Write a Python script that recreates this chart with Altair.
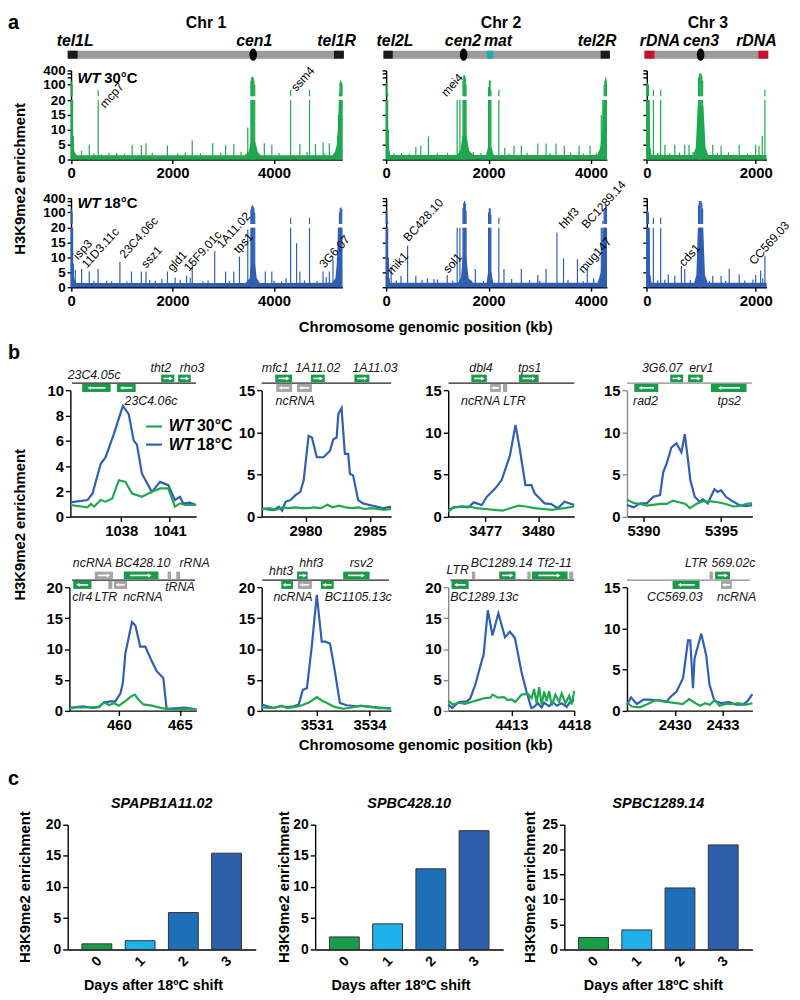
import altair as alt
import numpy as np
import pandas as pd

FONT = "Liberation Sans"
GREEN = "#1fa84f"
BLUE = "#2f5fb3"
GENE_GREEN = "#1a9a48"
GENE_GRAY = "#a5a5a5"
IDEO_GRAY = "#9b9b9b"
W, H = 784, 992

# ---------------- panel a data (kb, enrichment) ----------------
CHR1_WT30_SPIKES = [
    (0, 150), (10, 130), (20, 100), (30, 20), (45, 8),
    (207, 2.9), (359, 5.0), (450, 2.0), (535, 60), (600, 1.8), (748, 2.3), (900, 2.2), (1050, 1.9),
    (1204, 4.9), (1386, 4.9), (1477, 5.5), (1600, 2.3), (1899, 4.7), (2100, 2.0), (2250, 2.4),
    (2388, 6.4), (2550, 2.1), (2792, 5.5), (2950, 2.3), (3046, 4.9), (3208, 5.2), (3350, 2.6), (3483, 10.8),
    (3545, 150), (3560, 200), (3575, 220), (3590, 200), (3605, 150), (3620, 100),
    (3809, 5.5), (3957, 5.0), (4100, 2.2), (4328, 60), (4510, 5.2), (4650, 2.5), (4700, 60), (4817, 5.2),
    (4967, 5.8), (5000, 2.0), (5091, 5.5),
    (5250, 8), (5270, 15), (5290, 30), (5300, 120), (5315, 150), (5330, 130), (5340, 110)]
CHR1_WT30_BASE = [(0, 20), (25, 20), (40, 6), (70, 2.5), (110, 1.4), (3420, 1.4), (3500, 2.5), (3540, 6),
                  (3630, 6), (3680, 2.5), (3740, 1.4), (5150, 1.4), (5200, 2.5), (5240, 5), (5265, 12),
                  (5280, 20), (5346, 20)]
CHR1_WT18_SPIKES = [
    (0, 150), (10, 130), (20, 100), (30, 20), (45, 8),
    (84, 5.9), (208, 6.1), (358, 5.3), (450, 2.2), (533, 6.1), (702, 2.2), (800, 2.0), (963, 8.6), (1100, 1.9),
    (1191, 5.3), (1386, 5.3), (1477, 5.3), (1550, 2.4), (1660, 2.2), (1790, 2.8), (1900, 5.3), (2050, 3.3),
    (2150, 2.5), (2278, 3.9), (2350, 3.2), (2389, 8.3), (2600, 2.0), (2700, 2.3), (2831, 12.2), (3046, 5.3),
    (3120, 2.1), (3208, 5.3), (3319, 10.3), (3483, 19.4),
    (3545, 130), (3560, 180), (3575, 200), (3590, 180), (3605, 150), (3620, 100),
    (3650, 2.4), (3828, 5.3), (3957, 5.3), (4000, 2.2), (4150, 2.0), (4237, 3.0), (4328, 60), (4445, 14.8),
    (4510, 5.3), (4600, 2.3), (4700, 60), (4850, 2.1), (4967, 5.3), (5030, 3.5), (5091, 5.3), (5163, 9.2),
    (5250, 10), (5270, 20), (5290, 100), (5305, 150), (5320, 160), (5335, 140)]
CHR1_WT18_BASE = [(0, 20), (25, 20), (40, 6), (70, 2.5), (110, 1.4), (3440, 1.4), (3520, 3), (3545, 8),
                  (3625, 8), (3660, 3), (3720, 1.4), (5150, 1.5), (5210, 3), (5240, 8), (5265, 20), (5346, 20)]

CHR2_WT30_SPIKES = [
    (0, 120), (15, 100), (30, 40), (45, 10), (60, 3),
    (150, 2.0), (300, 2.2), (450, 1.9), (580, 4.2), (677, 4.6), (825, 7.7), (1000, 2.1), (1200, 2.3),
    (1386, 20), (1440, 20),
    (1500, 150), (1515, 250), (1530, 250), (1545, 200), (1560, 100),
    (1700, 2.5), (1850, 2.2),
    (2000, 80), (2015, 150), (2030, 150), (2045, 60),
    (2200, 60), (2316, 4.0), (2400, 2.0), (2497, 4.6), (2639, 4.6), (2750, 2.3), (2961, 5.4), (3122, 5.4),
    (3200, 2.1), (3315, 5.4), (3477, 4.6), (3600, 2.4), (3766, 4.6), (3850, 2.0), (3980, 4.6), (4100, 2.2),
    (4200, 15), (4230, 20), (4255, 100), (4270, 150), (4285, 200), (4300, 150)]
CHR2_WT30_BASE = [(0, 20), (20, 20), (40, 5), (70, 1.5), (1380, 1.5), (1450, 3), (1490, 8), (1570, 8),
                  (1620, 3), (1700, 1.5), (1950, 1.5), (1985, 4), (2060, 4), (2100, 1.5), (4120, 1.5),
                  (4180, 4), (4220, 10), (4245, 20), (4309, 20)]
CHR2_WT18_SPIKES = [
    (0, 120), (15, 100), (30, 40), (45, 10), (60, 3),
    (97, 6.7), (200, 2.3), (290, 3.9), (419, 14.0), (580, 3.9), (700, 2.5), (806, 3.0), (935, 2.8),
    (1000, 2.6), (1193, 4.1), (1300, 2.2), (1386, 20), (1440, 20),
    (1500, 150), (1515, 250), (1530, 300), (1545, 250), (1560, 120),
    (1650, 2.4), (1741, 6.1), (1900, 2.1),
    (2000, 100), (2015, 150), (2030, 150), (2045, 80),
    (2200, 60), (2300, 6.1), (2450, 2.8), (2639, 6.1), (2800, 2.4), (2961, 4.1), (3000, 2.2), (3122, 6.1),
    (3334, 18.3), (3463, 9.7), (3550, 2.5), (3734, 9.4), (3850, 2.0), (3927, 6.7), (4050, 3.0),
    (4200, 20), (4230, 40), (4255, 120), (4270, 150), (4285, 200), (4300, 180)]
CHR2_WT18_BASE = [(0, 20), (20, 20), (40, 5), (70, 1.5), (1400, 1.5), (1460, 3), (1495, 10), (1565, 10),
                  (1610, 3), (1700, 1.5), (1960, 1.5), (1990, 5), (2055, 5), (2090, 1.5), (4130, 1.5),
                  (4190, 5), (4220, 12), (4240, 20), (4309, 20)]

CHR3_WT30_SPIKES = [
    (0, 120), (15, 120), (30, 100), (45, 20), (60, 4),
    (121, 60), (200, 2.2), (255, 60), (333, 5.0), (420, 2.0), (515, 5.0), (600, 2.3), (697, 5.0), (776, 5.0),
    (850, 2.5),
    (950, 200), (965, 300), (980, 300), (995, 300), (1010, 250), (1025, 150),
    (1212, 5.0), (1300, 2.1), (1364, 4.6), (1500, 2.4), (1697, 5.0), (1850, 2.0), (2000, 5.0), (2061, 4.6),
    (2121, 8.0), (2170, 60)]
CHR3_WT30_BASE = [(0, 20), (40, 20), (60, 4), (90, 1.5), (850, 1.5), (900, 4), (935, 18), (1040, 18),
                  (1080, 4), (1130, 1.5), (2200, 1.5)]
CHR3_WT18_SPIKES = [
    (0, 120), (15, 120), (30, 100), (45, 20), (60, 4),
    (121, 60), (200, 2.3), (255, 60), (330, 2.5), (394, 4.4), (515, 3.9), (636, 7.2), (697, 6.1), (800, 2.4),
    (950, 200), (965, 300), (980, 300), (995, 300), (1010, 250), (1025, 150),
    (1150, 2.2), (1212, 3.9), (1364, 3.9), (1450, 2.1), (1515, 6.1), (1697, 4.4), (1800, 2.3), (1950, 2.6),
    (2000, 4.1), (2091, 5.6), (2130, 3.0), (2170, 10.6)]
CHR3_WT18_BASE = [(0, 20), (40, 20), (60, 4), (90, 1.5), (870, 1.5), (910, 4), (940, 20), (1035, 20),
                  (1070, 4), (1120, 1.5), (2200, 1.5)]

# gene names on the genome tracks: (text, kb, display height)
CHR1_WT30_GENES = [("mcp7", 611, 18.0), ("ssm4", 4382, 23.6)]
CHR2_WT30_GENES = [("mei4", 1121, 21.9)]
CHR1_WT18_GENES = [("isp3", 84, 10.0), ("11D3.11c", 254, 7.1), ("23C4.06c", 1001, 10.4), ("ssz1", 1424, 7.1),
                   ("gld1", 1943, 6.0), ("15F9.01c", 2269, 6.0), ("1A11.02", 2919, 13.8), ("tps1", 3245, 12.1),
                   ("3G6.07", 4936, 7.1)]
CHR2_WT18_GENES = [("mik1", 58, 4.9), ("BC428.10", 381, 16.0), ("sol1", 1154, 5.4), ("hhf3", 3420, 20.4),
                   ("BC1289.14", 3859, 20.4), ("mug147", 3793, 5.4)]
CHR3_WT18_GENES = [("cds1", 631, 7.7), ("CC569.03", 1920, 8.2)]

# chromosome cartoons
CHR1_SEGS = [(-66, 5377, IDEO_GRAY), (-66, 129, "#1a1a1a"), (5182, 5377, "#1a1a1a")]
CHR2_SEGS = [(-52, 4367, IDEO_GRAY), (-52, 129, "#1a1a1a"), (1965, 2093, "#1db0a8"), (4187, 4367, "#1a1a1a")]
CHR3_SEGS = [(-42, 2231, IDEO_GRAY), (-42, 140, "#c8102e"), (2049, 2231, "#c8102e")]
CHR_CEN = [3590, 1513, 989]
CHR1_MARKS = [(80, "tel1L"), (3610, "cen1"), (5235, "tel1R")]
CHR2_MARKS = [(174, "tel2L"), (1498, "cen2"), (2184, "mat"), (4116, "tel2R")]
CHR3_MARKS = [(243, "rDNA"), (995, "cen3"), (2013, "rDNA")]
CHR_TITLES = [(2660, "Chr 1"), (2242, "Chr 2"), (1122, "Chr 3")]

# ---------------- panel b data ----------------
B1_WT18 = [(1034.85, 1.13), (1035.91, 1.31), (1036.22, 1.83), (1036.73, 4.19), (1037.03, 4.71), (1037.54, 6.54),
           (1038.1, 8.77), (1038.46, 8.12), (1038.77, 6.02), (1038.97, 5.7), (1039.28, 3.4), (1039.89, 1.96),
           (1040.4, 2.75), (1040.91, 2.49), (1041.32, 1.31), (1041.63, 1.57), (1041.83, 1.05), (1042.24, 1.1),
           (1042.63, 0.92)]
B1_WT30 = [(1034.85, 0.92), (1035.91, 0.73), (1036.12, 1.0), (1036.32, 0.79), (1036.73, 1.31), (1037.03, 1.18),
           (1037.44, 1.44), (1037.85, 2.88), (1038.26, 2.75), (1038.67, 1.83), (1039.28, 1.57), (1039.89, 1.96),
           (1040.4, 2.23), (1040.91, 2.23), (1041.32, 0.79), (1041.63, 1.05), (1041.93, 0.92), (1042.63, 0.92)]
B2_WT18 = [(2976.6, 0.98), (2977.04, 0.86), (2977.55, 0.78), (2977.93, 1.18), (2978.19, 0.71), (2978.45, 1.76),
           (2978.83, 1.96), (2979.22, 2.55), (2979.6, 2.94), (2979.86, 4.31), (2980.24, 9.6), (2980.5, 9.4),
           (2980.88, 7.06), (2981.4, 7.06), (2981.91, 7.84), (2982.16, 9.2), (2982.42, 9.4), (2982.55, 12.2),
           (2982.8, 12.9), (2983.06, 7.45), (2983.32, 7.45), (2983.45, 5.1), (2983.7, 4.9), (2984.09, 1.96),
           (2984.47, 1.57), (2984.98, 1.37), (2985.5, 1.18), (2986.01, 0.98), (2986.65, 1.18)]
B2_WT30 = [(2976.6, 0.9), (2977.2, 1.0), (2977.7, 0.8), (2978.2, 1.1), (2978.7, 1.0), (2979.2, 1.1), (2979.7, 1.0),
           (2980.2, 1.0), (2980.7, 1.1), (2981.2, 1.0), (2981.7, 1.4), (2982.1, 1.1), (2982.6, 1.3), (2983.1, 1.1),
           (2983.6, 1.0), (2984.1, 1.1), (2984.6, 0.9), (2985.1, 1.0), (2985.6, 0.9), (2986.1, 0.8), (2986.65, 0.9)]
B3_WT18 = [(3474.9, 0.78), (3475.22, 1.1), (3475.69, 1.18), (3476.07, 1.1), (3476.34, 1.69), (3476.81, 1.37),
           (3477.09, 2.35), (3477.56, 3.33), (3477.93, 4.31), (3478.4, 7.25), (3478.72, 10.9), (3478.96, 8.04),
           (3479.28, 3.73), (3479.62, 3.73), (3479.81, 2.75), (3480.37, 1.57), (3480.75, 1.49), (3481.12, 0.98),
           (3481.5, 1.76), (3482.05, 1.37)]
B3_WT30 = [(3474.9, 0.6), (3475.2, 1.1), (3475.7, 1.2), (3476.1, 1.2), (3476.5, 1.0), (3477.0, 0.9), (3477.5, 0.8),
           (3478.0, 0.7), (3478.4, 1.0), (3478.9, 1.3), (3479.3, 1.2), (3479.8, 1.0), (3480.3, 0.9), (3480.8, 0.8),
           (3481.1, 0.9), (3481.5, 1.0), (3482.05, 1.2)]
B4_WT18 = [(5388.93, 1.37), (5389.36, 1.1), (5389.78, 1.57), (5390.21, 1.57), (5390.63, 2.35), (5391.06, 2.55),
           (5391.27, 5.29), (5391.48, 6.27), (5391.8, 8.24), (5392.12, 8.71), (5392.44, 7.65), (5392.66, 9.8),
           (5392.87, 6.67), (5393.02, 4.31), (5393.3, 2.35), (5393.61, 1.76), (5393.82, 2.08), (5394.14, 1.57),
           (5394.57, 3.25), (5394.78, 2.94), (5394.99, 3.14), (5395.31, 2.35), (5395.63, 1.96), (5396.16, 1.37),
           (5396.59, 1.25), (5397.0, 1.37)]
B4_WT30 = [(5388.93, 2.0), (5389.4, 1.6), (5389.8, 1.5), (5390.2, 1.3), (5390.6, 1.4), (5391.1, 1.5), (5391.5, 1.5),
           (5391.9, 1.9), (5392.3, 1.7), (5392.7, 1.5), (5393.0, 1.0), (5393.4, 1.5), (5393.8, 1.8), (5394.3, 1.8),
           (5394.8, 1.7), (5395.3, 1.5), (5395.8, 1.2), (5396.3, 1.3), (5396.6, 1.5), (5397.0, 1.6)]
B5_WT18 = [(455.94, 0.43), (457.02, 0.7), (457.83, 0.43), (458.37, 0.54), (458.78, 1.34), (459.32, 1.5),
           (459.72, 1.5), (460.13, 2.84), (460.32, 4.45), (460.53, 9.3), (461.07, 14.4), (461.35, 13.8),
           (461.75, 10.4), (462.16, 10.4), (462.7, 8.0), (463.1, 6.4), (463.64, 5.3), (463.91, 0.3), (464.86, 0.4),
           (465.4, 0.5), (466.35, 0.2)]
B5_WT30 = [(455.94, 0.3), (456.5, 0.5), (457.5, 0.5), (458.3, 0.6), (458.8, 1.3), (459.2, 0.9), (459.6, 1.2),
           (460.0, 0.8), (460.5, 1.5), (461.0, 2.3), (461.3, 2.6), (461.6, 1.8), (462.0, 1.0), (462.7, 0.8),
           (463.5, 0.4), (464.5, 0.1), (465.5, 0.3), (466.35, 0.2)]
B6_WT18 = [(3527.87, 0.97), (3528.19, 0.7), (3528.56, 0.43), (3528.94, 0.7), (3529.31, 0.59), (3529.69, 0.7),
           (3529.97, 0.97), (3530.21, 3.38), (3530.44, 3.65), (3530.72, 10.6), (3531.0, 18.8), (3531.28, 11.2),
           (3531.47, 11.2), (3531.75, 10.9), (3532.03, 6.33), (3532.31, 1.23), (3532.69, 0.86), (3533.25, 0.7),
           (3533.81, 0.7), (3534.38, 0.54), (3535.2, 0.32)]
B6_WT30 = [(3527.87, 0.5), (3528.5, 0.4), (3529.0, 0.8), (3529.3, 0.4), (3529.8, 0.6), (3530.2, 0.9), (3530.6, 1.4),
           (3531.0, 2.2), (3531.3, 1.6), (3531.6, 1.2), (3532.0, 0.6), (3532.5, 0.3), (3533.0, 0.5), (3533.5, 0.8),
           (3534.0, 0.6), (3534.5, 0.4), (3535.2, 0.4)]
B7_WT18 = [(4407.95, 0.97), (4408.27, 0.43), (4408.79, 1.4), (4409.45, 1.5), (4409.71, 2.0), (4410.11, 4.2),
           (4410.64, 8.2), (4410.77, 9.0), (4411.11, 16.3), (4411.48, 12.2), (4411.95, 15.8), (4412.48, 11.9),
           (4412.87, 12.8), (4413.27, 11.8), (4413.79, 6.3), (4414.19, 3.1), (4414.58, 0.43), (4414.8, 0.6),
           (4415.1, 1.2), (4415.4, 0.5), (4415.6, 1.3), (4416.0, 0.7), (4416.3, 1.4), (4416.6, 0.8),
           (4417.0, 1.2), (4417.4, 0.6), (4417.7, 1.5), (4418.0, 1.7)]
B7_WT30 = [(4407.95, 1.6), (4408.3, 1.0), (4408.8, 1.3), (4409.3, 1.1), (4409.8, 1.4), (4410.3, 1.7), (4410.8, 2.0),
           (4411.3, 2.1), (4411.5, 2.6), (4411.9, 2.1), (4412.4, 2.2), (4412.7, 1.7), (4413.0, 1.8), (4413.3, 1.4),
           (4413.8, 2.6), (4414.3, 2.7), (4414.6, 2.0), (4414.8, 3.5), (4415.0, 1.2), (4415.2, 3.8), (4415.4, 1.0),
           (4415.6, 3.1), (4415.8, 1.5), (4416.0, 3.2), (4416.2, 0.8), (4416.5, 2.6), (4416.8, 1.4), (4417.0, 2.8),
           (4417.3, 1.2), (4417.6, 2.4), (4417.8, 1.0), (4418.0, 3.2)]
B8_WT18 = [(2427.0, 0.72), (2427.25, 1.61), (2427.62, 0.8), (2428.04, 1.33), (2428.45, 1.33), (2429.07, 1.2),
           (2429.48, 1.04), (2429.69, 1.61), (2430.11, 2.33), (2430.52, 3.94), (2430.83, 8.55), (2430.97, 8.55),
           (2431.14, 2.73), (2431.24, 6.35), (2431.66, 9.36), (2431.97, 6.75), (2432.18, 3.13), (2432.49, 1.2),
           (2432.9, 0.92), (2433.42, 1.04), (2433.83, 0.72), (2434.24, 0.72), (2434.55, 1.12), (2434.87, 2.0)]
B8_WT30 = [(2427.0, 1.0), (2427.3, 0.5), (2427.8, 0.4), (2428.3, 0.8), (2428.8, 1.3), (2429.3, 1.2), (2429.7, 1.0),
           (2430.1, 0.9), (2430.5, 0.8), (2430.9, 1.4), (2431.3, 0.9), (2431.6, 0.6), (2431.9, 0.9), (2432.2, 0.7),
           (2432.5, 1.3), (2432.8, 0.6), (2433.2, 0.8), (2433.6, 0.8), (2434.0, 0.9), (2434.4, 0.7), (2434.87, 0.9)]

# genes: (name, start kb, end kb, kind g=gene/n=ncRNA/b=box, strand 1 above / -1 below)
B1_GENES = [("23C4.05c", 1035.58, 1037.34, "g", -1), ("23C4.06c", 1037.73, 1038.89, "g", -1),
            ("tht2", 1040.47, 1041.28, "g", 1), ("rho3", 1041.52, 1042.30, "g", 1)]
B1_LABELS = [("23C4.05c", 1036.32, -16), ("23C4.06c", 1039.84, 11), ("tht2", 1040.45, -23), ("rho3", 1042.38, -23)]
B2_GENES = [("mfc1", 2977.65, 2978.96, "g", 1), ("1A11.02", 2980.42, 2981.5, "g", 1),
            ("1A11.03", 2983.8, 2984.96, "g", 1), ("ncRNA", 2977.73, 2978.96, "n", -1),
            ("ncRNA", 2979.34, 2980.5, "n", -1)]
B2_LABELS = [("mfc1", 2977.65, -23), ("1A11.02", 2980.95, -23), ("1A11.03", 2985.4, -23), ("ncRNA", 2979.2, 11)]
B3_GENES = [("dbl4", 3476.21, 3477.09, "g", 1), ("tps1", 3478.91, 3480.03, "g", 1),
            ("ncRNA", 3477.28, 3477.89, "n", -1), ("LTR", 3478.01, 3478.25, "b", -1)]
B3_LABELS = [("dbl4", 3476.76, -23), ("tps1", 3479.52, -23), ("ncRNA LTR", 3477.46, 11)]
B4_GENES = [("3G6.07", 5391.72, 5392.55, "g", 1), ("erv1", 5392.87, 5393.82, "g", 1),
            ("rad2", 5389.4, 5390.95, "g", -1), ("tps2", 5394.34, 5396.64, "g", -1)]
B4_LABELS = [("3G6.07", 5391.2, -23), ("erv1", 5393.72, -23), ("rad2", 5390.12, 11), ("tps2", 5395.53, 11)]
B5_GENES = [("clr4", 456.26, 457.75, "g", -1), ("ncRNA", 458.02, 459.51, "n", 1),
            ("BC428.10", 460.4, 463.24, "g", 1), ("rRNA", 463.99, 464.27, "b", 1), ("rRNA", 464.7, 465.02, "b", 1),
            ("LTR", 459.13, 459.46, "b", -1), ("ncRNA", 459.59, 460.67, "n", -1)]
B5_LABELS = [("ncRNA", 457.83, -25), ("BC428.10", 461.96, -25), ("rRNA", 466.2, -25), ("tRNA", 465.0, 0),
             ("clr4", 457.0, 10), ("LTR", 458.94, 10), ("ncRNA", 461.96, 10)]
B6_GENES = [("hht3", 3528.98, 3529.65, "g", -1), ("hhf3", 3529.88, 3530.48, "g", 1),
            ("ncRNA", 3529.92, 3530.72, "n", -1), ("BC1105.13c", 3531.23, 3531.96, "g", -1),
            ("rsv2", 3532.5, 3534.0, "g", 1)]
B6_LABELS = [("hht3", 3528.97, -16.6), ("hhf3", 3530.68, -25), ("rsv2", 3533.53, -25), ("ncRNA", 3529.65, 10),
             ("BC1105.13c", 3533.35, 10)]
B7_GENES = [("LTR", 4409.84, 4410.1, "b", 1), ("BC1289.13c", 4408.21, 4409.58, "g", -1),
            ("BC1289.14", 4412.02, 4413.32, "g", 1), ("LTR", 4414.26, 4414.52, "b", 1),
            ("Tf2-11", 4414.63, 4417.47, "g", 1), ("LTR", 4417.6, 4417.92, "b", 1)]
B7_LABELS = [("LTR", 4408.71, -17.6), ("BC1289.14", 4412.21, -25), ("Tf2-11", 4416.42, -25),
             ("BC1289.13c", 4410.83, 10)]
B8_GENES = [("LTR", 2432.18, 2432.39, "b", 1), ("569.02c", 2432.53, 2433.46, "g", 1),
            ("CC569.03", 2429.86, 2431.56, "g", -1), ("ncRNA", 2432.9, 2433.58, "n", -1)]
B8_LABELS = [("LTR", 2431.35, -25), ("569.02c", 2433.68, -25), ("CC569.03", 2430.0, 10), ("ncRNA", 2433.88, 10)]

# ---------------- panel c data ----------------
DAYS = ["0", "1", "2", "3"]
DAY_COLORS = ["#1a9d49", "#1fb1ea", "#1d6fb8", "#2c5ea9"]
C_TITLES = ["SPAPB1A11.02", "SPBC428.10", "SPBC1289.14"]
C_VALUES = [[0.9, 1.4, 5.9, 15.4], [2.0, 4.1, 12.9, 19.0], [2.4, 3.9, 12.3, 20.9]]
C_YMAX = [20, 20, 25]

ELLIPSE = "M0,-1 A0.62,1 0 1,1 0,1 A0.62,1 0 1,1 0,-1 Z"
ONE = [{"k": 0}]

# plot-area placement (pixels inside the chart)
XR_CHR = [(63.7, 337.7), (382.0, 605.0), (645.3, 766.3)]
YR_ROW = [(148.0, 58.0), (277.0, 187.0)]
XR_B = [(63.0, 190.0), (256.3, 387.0), (444.7, 572.0), (625.3, 752.0),
        (62.0, 190.3), (256.3, 387.0), (444.7, 572.0), (625.3, 752.0)]
YR_B = [(508.7, 381.3), (704.7, 580.3)]
XR_C = [(60.3, 250.3), (310.3, 500.3), (562.0, 752.0)]
YR_C = (946.0, 819.7)


def up(v):
    # display position of values above the axis break (20 .. 400)
    return round(25.17 + 8.02 * np.log10(v / 100.0), 3)


Y_TICKS = [0, 5, 10, 15, 20, up(100), up(200), up(300), up(400)]
Y_EXPR = ("datum.value >= 29.9 ? '400' : (abs(datum.value - 25.17) < 0.01 ? '100' : "
          "(datum.value <= 20 ? datum.label : ''))")


def label(text, x, y, size=15, weight="bold", style="normal", align="center", baseline="middle",
          angle=0, color="black"):
    props = dict(text=text, fontSize=size, fontWeight=weight, fontStyle=style, align=align,
                 baseline=baseline, font=FONT, color=color)
    if angle:
        props["angle"] = angle
    return alt.Chart(alt.Data(values=ONE)).mark_text(**props).encode(x=alt.value(x), y=alt.value(y))


def track(spk, base, color, dom, xr, yr, xticks, ylabels, genes, wt=None,
          segs=None, cen=None, marks=None, title=None):
    sp = pd.DataFrame(spk, columns=["kb", "v"])
    sp["lo"] = sp["v"].clip(upper=20.0)
    sp["z"] = 0.0
    hi = sp[sp["v"] > 20].copy()
    hi["h0"] = 21.3
    hi["h1"] = [max(up(v), 22.3) for v in hi["v"]]
    bs = pd.DataFrame(base, columns=["kb", "v"])
    xs = alt.Scale(domain=dom, range=list(xr), nice=False, zero=False)
    ys = alt.Scale(domain=[0, 30], range=list(yr), nice=False, zero=True)
    xax = alt.Axis(orient="bottom", offset=yr[0] - H, values=xticks, format="d", title=None,
                   labelFontSize=15, labelFontWeight="bold", labelFont=FONT, tickSize=4, labelPadding=2,
                   labelFlush=False, grid=False)
    yax = alt.Axis(orient="left", offset=-xr[0], values=Y_TICKS, labelExpr=Y_EXPR, labels=ylabels,
                   title=None, labelFontSize=13.5, labelFontWeight="bold", labelFont=FONT, tickSize=4,
                   labelPadding=2, labelOverlap=False, grid=False, labelFlush=False)

    def X(f):
        return alt.X(f, type="quantitative", scale=xs, axis=xax)

    def Y(f):
        return alt.Y(f, type="quantitative", scale=ys, axis=yax)

    layers = [
        alt.Chart(bs).mark_area(color=color, opacity=1).encode(x=X("kb"), y=Y("v")),
        alt.Chart(sp).mark_rule(color=color, strokeWidth=1.2).encode(x=X("kb"), y=Y("z"), y2=alt.Y2("lo")),
    ]
    if len(hi):
        layers.append(alt.Chart(hi).mark_rule(color=color, strokeWidth=1.2).encode(
            x=X("kb"), y=Y("h0"), y2=alt.Y2("h1")))
    if segs:
        sg = pd.DataFrame(segs, columns=["x0", "x1", "c"])
        sg["y"] = 35.3
        layers.append(alt.Chart(sg).mark_rule(strokeWidth=8).encode(
            x=X("x0"), x2=alt.X2("x1"), y=Y("y"), color=alt.Color("c:N", scale=None)))
        cd = pd.DataFrame({"kb": [cen], "y": [35.3]})
        layers.append(alt.Chart(cd).mark_point(shape=ELLIPSE, filled=True, size=150, color="black",
                                               opacity=1).encode(x=X("kb"), y=Y("y")))
        md = pd.DataFrame(marks, columns=["kb", "t"])
        md["y"] = 39.8
        layers.append(alt.Chart(md).mark_text(fontSize=16, fontWeight="bold", fontStyle="italic",
                                              font=FONT).encode(x=X("kb"), y=Y("y"), text="t:N"))
        td = pd.DataFrame({"kb": [title[0]], "t": [title[1]], "y": [45.9]})
        layers.append(alt.Chart(td).mark_text(fontSize=16, fontWeight="bold", font=FONT).encode(
            x=X("kb"), y=Y("y"), text="t:N"))
    if genes:
        gd = pd.DataFrame(genes, columns=["t", "kb", "y"])
        layers.append(alt.Chart(gd).mark_text(angle=312, align="left", baseline="middle", fontSize=12,
                                              font=FONT, color="black").encode(
            x=X("kb"), y=Y("y"), text="t:N"))
    if wt:
        ty = yr[1] + (8 if wt == "30°C" else 5)
        layers.append(label("WT", xr[0] + 6.5, ty, size=15, style="italic", align="left"))
        layers.append(label(wt, xr[0] + 33.5, ty, size=15, align="left"))
    return alt.layer(*layers)


def bpanel(blue, green, dom, ymax, yticks, xticks, xr, yr, genes, labels, gline, gcolor, ycolor,
           legend=False):
    xs = alt.Scale(domain=dom, range=list(xr), nice=False, zero=False)
    ys = alt.Scale(domain=[0, ymax], range=list(yr), nice=False, zero=True)
    top = yr[1]
    xax = alt.Axis(orient="bottom", offset=yr[0] - H, values=xticks, format="d", title=None,
                   labelFontSize=15, labelFontWeight="bold", labelFont=FONT, tickSize=5, labelPadding=2,
                   labelFlush=False, grid=False)
    yax = alt.Axis(orient="left", offset=-xr[0], values=yticks, title=None, labelFontSize=15,
                   labelFontWeight="bold", labelFont=FONT, tickSize=5, labelPadding=2, grid=False,
                   domainColor=ycolor, tickColor=ycolor, labelFlush=False)

    def X(f):
        return alt.X(f, type="quantitative", scale=xs, axis=xax)

    def Y(f):
        return alt.Y(f, type="quantitative", scale=ys, axis=yax)

    db = pd.DataFrame(blue, columns=["kb", "v"])
    dg = pd.DataFrame(green, columns=["kb", "v"])
    layers = [
        alt.Chart(db).mark_line(color=BLUE, strokeWidth=2.2).encode(x=X("kb"), y=Y("v")),
        alt.Chart(dg).mark_line(color=GREEN, strokeWidth=2.2).encode(x=X("kb"), y=Y("v")),
    ]
    gl = pd.DataFrame([{"x0": gline[0], "x1": gline[1]}])
    layers.append(alt.Chart(gl).mark_rule(color=gcolor, strokeWidth=1.3).encode(
        x=X("x0"), x2=alt.X2("x1"), y=alt.value(top - 7.5)))
    df = pd.DataFrame(genes, columns=["name", "s", "e", "kind", "strand"])
    df["w"] = df["e"] - df["s"]
    df["fill"] = [GENE_GREEN if k == "g" else GENE_GRAY for k in df["kind"]]
    for strand, (y0, y1) in {1: (-16.0, -8.3), -1: (-6.7, 1.5)}.items():
        sub = df[df["strand"] == strand].copy()
        if not len(sub):
            continue
        layers.append(alt.Chart(sub).mark_rect().encode(
            x=X("s"), x2=alt.X2("e"), y=alt.value(top + y0), y2=alt.value(top + y1),
            color=alt.Color("fill:N", scale=None)))
        arr = sub[sub["kind"] != "b"].copy()
        if not len(arr):
            continue
        yc = top + (y0 + y1) / 2
        if strand == 1:
            arr["a0"] = arr["s"] + 0.18 * arr["w"]
            arr["a1"] = arr["e"] - 0.3 * arr["w"]
            arr["h"] = arr["e"] - 0.25 * arr["w"]
            shape = "triangle-right"
        else:
            arr["a0"] = arr["e"] - 0.18 * arr["w"]
            arr["a1"] = arr["s"] + 0.3 * arr["w"]
            arr["h"] = arr["s"] + 0.25 * arr["w"]
            shape = "triangle-left"
        layers.append(alt.Chart(arr).mark_rule(color="white", strokeWidth=1.6).encode(
            x=X("a0"), x2=alt.X2("a1"), y=alt.value(yc)))
        layers.append(alt.Chart(arr).mark_point(shape=shape, filled=True, size=16, color="white",
                                                opacity=1).encode(x=X("h"), y=alt.value(yc)))
    lab = pd.DataFrame(labels, columns=["t", "kb", "y"])
    for yv, sub in lab.groupby("y"):
        layers.append(alt.Chart(sub).mark_text(fontSize=12.5, fontStyle="italic", font=FONT,
                                               color="#151515").encode(
            x=X("kb"), y=alt.value(top + float(yv)), text="t:N"))
    if legend:
        x0 = xr[0]
        layers.append(alt.Chart(alt.Data(values=ONE)).mark_rule(color=GREEN, strokeWidth=2.2).encode(
            x=alt.value(x0 + 76.5), x2=alt.value(x0 + 92.5), y=alt.value(top + 36.4)))
        layers.append(alt.Chart(alt.Data(values=ONE)).mark_rule(color=BLUE, strokeWidth=2.2).encode(
            x=alt.value(x0 + 76.5), x2=alt.value(x0 + 92.5), y=alt.value(top + 54.7)))
        layers.append(label("WT", x0 + 99.5, top + 36.4, size=16, style="italic", align="left"))
        layers.append(label("30°C", x0 + 128, top + 36.4, size=16, align="left"))
        layers.append(label("WT", x0 + 99.5, top + 54.7, size=16, style="italic", align="left"))
        layers.append(label("18°C", x0 + 128, top + 54.7, size=16, align="left"))
    return alt.layer(*layers)


def cbar(i):
    xr = XR_C[i]
    df = pd.DataFrame({"day": DAYS, "v": C_VALUES[i]})
    ymax = C_YMAX[i]
    return alt.Chart(df).mark_bar(stroke="#333", strokeWidth=1).encode(
        x=alt.X("day:N", sort=DAYS,
                scale=alt.Scale(range=list(xr), paddingInner=0.31, paddingOuter=0.33),
                axis=alt.Axis(orient="bottom", offset=YR_C[0] - H, title=None, labelAngle=315,
                              labelAlign="center", labelBaseline="middle", labelPadding=12, ticks=False,
                              labelFont=FONT, labelFontSize=14, labelFontWeight="bold", grid=False)),
        y=alt.Y("v:Q", scale=alt.Scale(domain=[0, ymax], range=list(YR_C), nice=False),
                axis=alt.Axis(orient="left", offset=-xr[0], values=list(range(0, ymax + 1, 5)), title=None,
                              labelFont=FONT, labelFontSize=14, labelFontWeight="bold", tickSize=5,
                              labelPadding=2, grid=False, labelFlush=False)),
        color=alt.Color("day:N", scale=alt.Scale(domain=DAYS, range=DAY_COLORS), legend=None))


# ---------------- panel a ----------------
a11 = track(CHR1_WT30_SPIKES, CHR1_WT30_BASE, GREEN, [0, 5346], XR_CHR[0], YR_ROW[0], [0, 2000, 4000], True,
            CHR1_WT30_GENES, "30°C", CHR1_SEGS, CHR_CEN[0], CHR1_MARKS, CHR_TITLES[0])
a12 = track(CHR1_WT18_SPIKES, CHR1_WT18_BASE, BLUE, [0, 5346], XR_CHR[0], YR_ROW[1], [0, 2000, 4000], True,
            CHR1_WT18_GENES, "18°C")
a21 = track(CHR2_WT30_SPIKES, CHR2_WT30_BASE, GREEN, [0, 4309], XR_CHR[1], YR_ROW[0], [0, 2000, 4000], False,
            CHR2_WT30_GENES, None, CHR2_SEGS, CHR_CEN[1], CHR2_MARKS, CHR_TITLES[1])
a22 = track(CHR2_WT18_SPIKES, CHR2_WT18_BASE, BLUE, [0, 4309], XR_CHR[1], YR_ROW[1], [0, 2000, 4000], False,
            CHR2_WT18_GENES)
a31 = track(CHR3_WT30_SPIKES, CHR3_WT30_BASE, GREEN, [0, 2200], XR_CHR[2], YR_ROW[0], [0, 2000], False,
            [], None, CHR3_SEGS, CHR_CEN[2], CHR3_MARKS, CHR_TITLES[2])
a32 = track(CHR3_WT18_SPIKES, CHR3_WT18_BASE, BLUE, [0, 2200], XR_CHR[2], YR_ROW[1], [0, 2000], False,
            CHR3_WT18_GENES)

# ---------------- panel b ----------------
b1 = bpanel(B1_WT18, B1_WT30, [1034.85, 1042.63], 10, [0, 2, 4, 6, 8, 10], [1038, 1041], XR_B[0], YR_B[0],
            B1_GENES, B1_LABELS, (1034.95, 1042.63), "#222", "black", legend=True)
b2 = bpanel(B2_WT18, B2_WT30, [2976.6, 2986.65], 15, [0, 5, 10, 15], [2980, 2985], XR_B[1], YR_B[0],
            B2_GENES, B2_LABELS, (2976.6, 2986.65), "#222", "black")
b3 = bpanel(B3_WT18, B3_WT30, [3474.9, 3482.05], 15, [0, 5, 10, 15], [3477, 3480], XR_B[2], YR_B[0],
            B3_GENES, B3_LABELS, (3474.92, 3482.05), "#222", "black")
b4 = bpanel(B4_WT18, B4_WT30, [5388.93, 5397.02], 15, [0, 5, 10, 15], [5390, 5395], XR_B[3], YR_B[0],
            B4_GENES, B4_LABELS, (5388.93, 5397.0), "#8a8a8a", "#8a8a8a")
b5 = bpanel(B5_WT18, B5_WT30, [455.94, 466.35], 20, [0, 5, 10, 15, 20], [460, 465], XR_B[4], YR_B[1],
            B5_GENES, B5_LABELS, (456.16, 466.24), "#222", "black")
b6 = bpanel(B6_WT18, B6_WT30, [3527.87, 3535.22], 20, [0, 5, 10, 15, 20], [3531, 3534], XR_B[5], YR_B[1],
            B6_GENES, B6_LABELS, (3527.9, 3535.1), "#222", "black")
b7 = bpanel(B7_WT18, B7_WT30, [4407.95, 4418.0], 20, [0, 5, 10, 15, 20], [4413, 4418], XR_B[6], YR_B[1],
            B7_GENES, B7_LABELS, (4408.13, 4418.0), "#222", "#8a8a8a")
b8 = bpanel(B8_WT18, B8_WT30, [2427.0, 2434.87], 15, [0, 5, 10, 15], [2430, 2433], XR_B[7], YR_B[1],
            B8_GENES, B8_LABELS, (2427.0, 2434.72), "#8a8a8a", "black")

# ---------------- panel c ----------------
c1, c2, c3 = cbar(0), cbar(1), cbar(2)

# ---------------- titles and panel letters ----------------
texts = alt.layer(
    label("a", 0, 0, size=20, align="left", baseline="top"),
    label("H3K9me2 enrichment", 12, 167.5, angle=270),
    label("Chromosome genomic position (kb)", 422, 317),
    label("b", 0, 334, size=20, align="left", baseline="top"),
    label("H3K9me2 enrichment", 12, 517, angle=270),
    label("Chromosome genomic position (kb)", 422, 740),
    label("c", 0, 764, size=20, align="left", baseline="top"),
    label(C_TITLES[0], 155.3, 799, size=14.5, style="italic"),
    label(C_TITLES[1], 405.3, 799, size=14.5, style="italic"),
    label(C_TITLES[2], 657, 799, size=14.5, style="italic"),
    label("H3K9me2 enrichment", 17, 883, size=15, angle=270),
    label("H3K9me2 enrichment", 278.7, 883, size=15, angle=270),
    label("H3K9me2 enrichment", 527, 883, size=15, angle=270),
    label("Days after 18ºC shift", 147, 983, size=14.5),
    label("Days after 18ºC shift", 397, 983, size=14.5),
    label("Days after 18ºC shift", 652, 983, size=14.5),
)

chart = alt.layer(a11, a12, a21, a22, a31, a32, b1, b2, b3, b4, b5, b6, b7, b8, c1, c2, c3, texts).resolve_scale(
    x="independent", y="independent", color="independent").properties(
    width=W, height=H, padding=0).configure_view(stroke="transparent").configure_axis(
    domainColor="black", tickColor="black", labelColor="black", domainWidth=1.4, tickWidth=1.4, grid=False)

chart.save("out.html", embed_options={"renderer": "svg", "actions": False})
